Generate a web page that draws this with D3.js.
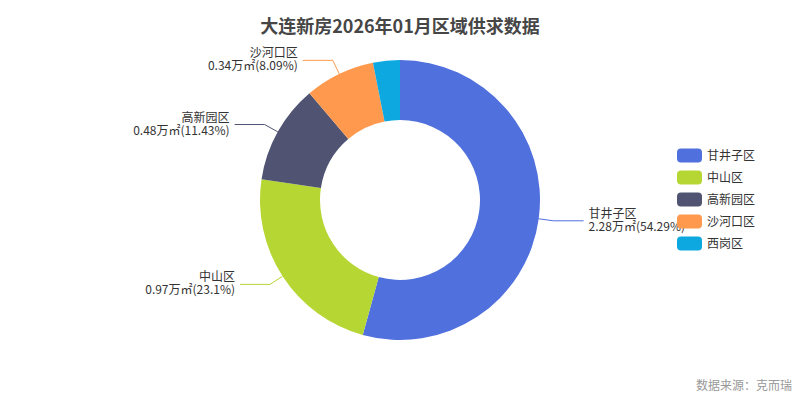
<!DOCTYPE html>
<html>
<head>
<meta charset="utf-8">
<script src="https://cdn.jsdelivr.net/npm/d3@7/dist/d3.min.js"></script>
<style>
  html, body { margin: 0; padding: 0; background: #fff; }
  svg { display: block; }
  text { font-family: "Noto Sans CJK SC", "Noto Sans", sans-serif; }
</style>
</head>
<body>
<svg id="chart" width="800" height="400"></svg>
<script>
const titleText = "大连新房2026年01月区域供求数据";
const sourceText = "数据来源：克而瑞";
const categories = ["甘井子区", "中山区", "高新园区", "沙河口区", "西岗区"];
const values = [2.28, 0.97, 0.48, 0.34, 0.13];
const percents = ["54.29", "23.1", "11.43", "8.09", "3.09"];
const labelShown = [true, true, true, true, false];
const colors = ["#5070dd", "#b6d634", "#505372", "#ff994d", "#0ca8df"];

const W = 800, H = 400;
const cx = 400, cy = 200;
const rOuter = 140, rInner = 80;
const len1 = 15, len2 = 30;

const svg = d3.select("#chart");

svg.append("text")
  .attr("x", W / 2).attr("y", 33)
  .attr("text-anchor", "middle")
  .attr("font-size", 18).attr("font-weight", "bold")
  .attr("fill", "#464646")
  .text(titleText);

const data = categories.map((c, i) => ({ name: c, value: values[i], pct: percents[i], show: labelShown[i], color: colors[i] }));

const pie = d3.pie().sort(null).value(d => d.value);
const arcs = pie(data);
const arc = d3.arc().innerRadius(rInner).outerRadius(rOuter);

const g = svg.append("g").attr("transform", `translate(${cx},${cy})`);
g.selectAll("path.slice").data(arcs).join("path")
  .attr("class", "slice")
  .attr("d", arc)
  .attr("fill", d => d.data.color);

const pt = (a, r) => [r * Math.sin(a), -r * Math.cos(a)];

arcs.filter(d => d.data.show).forEach(d => {
  const mid = (d.startAngle + d.endAngle) / 2;
  const p0 = pt(mid, rOuter);
  const p1 = pt(mid, rOuter + len1);
  const right = Math.sin(mid) >= 0;
  const p2 = [p1[0] + (right ? len2 : -len2), p1[1]];
  g.append("polyline")
    .attr("points", [p0, p1, p2].map(p => p.join(",")).join(" "))
    .attr("fill", "none")
    .attr("stroke", d.data.color)
    .attr("stroke-width", 1);
  const tx = p2[0] + (right ? 5 : -5);
  const t = g.append("text")
    .attr("text-anchor", right ? "start" : "end")
    .attr("font-size", 12)
    .attr("fill", "#333");
  t.append("tspan").attr("x", tx).attr("y", p2[1] - 3).text(d.data.name);
  t.append("tspan").attr("x", tx).attr("y", p2[1] + 10).text(`${d.data.value}万㎡(${d.data.pct}%)`);
});

const legend = svg.append("g");
const ly = d3.scalePoint().domain(categories).range([155.5, 243.5]);
categories.forEach((c, i) => {
  legend.append("rect")
    .attr("x", 677).attr("y", ly(c) - 7)
    .attr("width", 25).attr("height", 14)
    .attr("rx", 4).attr("ry", 4)
    .attr("fill", colors[i]);
  legend.append("text")
    .attr("x", 707).attr("y", ly(c) + 4.5)
    .attr("font-size", 12).attr("fill", "#333")
    .text(c);
});

svg.append("text")
  .attr("x", 792).attr("y", 390)
  .attr("text-anchor", "end")
  .attr("font-size", 12).attr("fill", "#999")
  .text(sourceText);
</script>
</body>
</html>
